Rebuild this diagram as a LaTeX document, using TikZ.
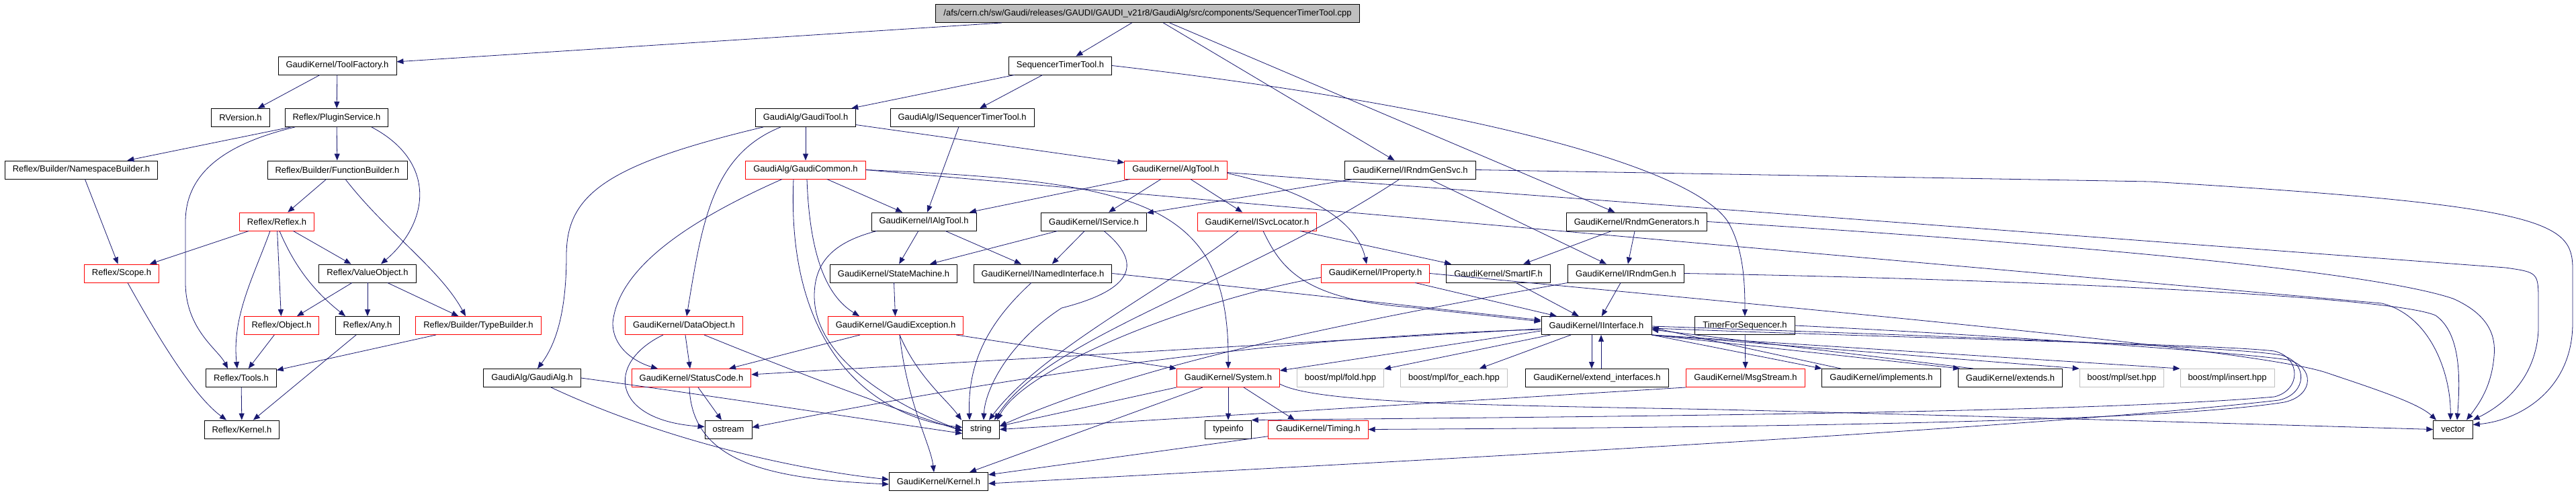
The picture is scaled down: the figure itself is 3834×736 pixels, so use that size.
\documentclass[tikz,border=0pt]{standalone}
\usepackage{fontspec}
\usepackage{xcolor}
\usepackage{tikz}
\usetikzlibrary{arrows.meta,positioning}
\newfontfamily\dotfont{Liberation Sans}
\definecolor{DoxBlue}{HTML}{191970}
\definecolor{DoxRed}{HTML}{FF0000}
\definecolor{DoxGrey}{HTML}{BFBFBF}
\tikzset{
  filebox/.style={draw=black,line width=0.9pt,fill=white,minimum height=27pt,inner xsep=11.5pt,inner ysep=2pt,font=\dotfont\fontsize{13pt}{15pt}\selectfont},
  redbox/.style={filebox,draw=DoxRed},
  greybox/.style={filebox,draw=DoxGrey},
  rootbox/.style={filebox,fill=DoxGrey},
  incarrow/.style={-{Triangle[length=10pt,width=8pt]},line width=0.8pt,draw=DoxBlue}
}
\begin{document}
\begin{tikzpicture}[x=1pt,y=-1pt]
\useasboundingbox (0,0) rectangle (3834,736);
\node[rootbox] (cpp) at (1708,20) {/afs/cern.ch/sw/Gaudi/releases/GAUDI/GAUDI\_v21r8/GaudiAlg/src/components/SequencerTimerTool.cpp};
\node[filebox] (tf) at (502,97.5) {GaudiKernel/ToolFactory.h};
\node[filebox] (stth) at (1578,97.5) {SequencerTimerTool.h};
\node[filebox] (rver) at (358,175) {RVersion.h};
\node[filebox] (plug) at (501,175) {Reflex/PluginService.h};
\node[filebox] (gtool) at (1199,175) {GaudiAlg/GaudiTool.h};
\node[filebox] (istt) at (1432,175) {GaudiAlg/ISequencerTimerTool.h};
\node[filebox] (nsb) at (121,252.5) {Reflex/Builder/NamespaceBuilder.h};
\node[filebox] (fnb) at (502,252.5) {Reflex/Builder/FunctionBuilder.h};
\node[redbox] (gcom) at (1199,252.5) {GaudiAlg/GaudiCommon.h};
\node[redbox] (algt) at (1750,252.5) {GaudiKernel/AlgTool.h};
\node[filebox] (rgsvc) at (2099,252.5) {GaudiKernel/IRndmGenSvc.h};
\node[redbox] (rflx) at (412,329.5) {Reflex/Reflex.h};
\node[filebox] (ialg) at (1375,329.5) {GaudiKernel/IAlgTool.h};
\node[filebox] (isvc) at (1628,329.5) {GaudiKernel/IService.h};
\node[redbox] (iloc) at (1871,329.5) {GaudiKernel/ISvcLocator.h};
\node[filebox] (rgens) at (2436,329.5) {GaudiKernel/RndmGenerators.h};
\node[redbox] (scope) at (181,406.5) {Reflex/Scope.h};
\node[filebox] (vobj) at (547,406.5) {Reflex/ValueObject.h};
\node[filebox] (smach) at (1330,406.5) {GaudiKernel/StateMachine.h};
\node[filebox] (inamed) at (1552,406.5) {GaudiKernel/INamedInterface.h};
\node[redbox] (iprop) at (2047,406.5) {GaudiKernel/IProperty.h};
\node[filebox] (smartif) at (2230,406.5) {GaudiKernel/SmartIF.h};
\node[filebox] (irgen) at (2420,406.5) {GaudiKernel/IRndmGen.h};
\node[redbox] (obj) at (419,484) {Reflex/Object.h};
\node[filebox] (any) at (547,484) {Reflex/Any.h};
\node[redbox] (tbld) at (712,484) {Reflex/Builder/TypeBuilder.h};
\node[redbox] (dobj) at (1018,484) {GaudiKernel/DataObject.h};
\node[redbox] (gexc) at (1333,484) {GaudiKernel/GaudiException.h};
\node[filebox] (iintf) at (2376,484) {GaudiKernel/IInterface.h};
\node[filebox] (tfs) at (2597,484) {TimerForSequencer.h};
\node[filebox] (tools) at (359,562) {Reflex/Tools.h};
\node[filebox] (galg) at (792,562) {GaudiAlg/GaudiAlg.h};
\node[redbox] (stcode) at (1029,562) {GaudiKernel/StatusCode.h};
\node[redbox] (sys) at (1828,562) {GaudiKernel/System.h};
\node[greybox] (fold) at (1995,562) {boost/mpl/fold.hpp};
\node[greybox] (foreach) at (2164,562) {boost/mpl/for\_each.hpp};
\node[filebox] (extif) at (2377,562) {GaudiKernel/extend\_interfaces.h};
\node[redbox] (msg) at (2598,562) {GaudiKernel/MsgStream.h};
\node[filebox] (impl) at (2800,562) {GaudiKernel/implements.h};
\node[filebox] (ext) at (2992,562) {GaudiKernel/extends.h};
\node[greybox] (mset) at (3158,562) {boost/mpl/set.hpp};
\node[greybox] (mins) at (3315,562) {boost/mpl/insert.hpp};
\node[filebox] (rkern) at (360,638.5) {Reflex/Kernel.h};
\node[filebox] (ostr) at (1084,638.5) {ostream};
\node[filebox] (str) at (1460,638.5) {string};
\node[filebox] (tinfo) at (1828,638.5) {typeinfo};
\node[redbox] (timing) at (1962,638.5) {GaudiKernel/Timing.h};
\node[filebox] (vec) at (3651,638.5) {vector};
\node[filebox] (gkern) at (1397,716) {GaudiKernel/Kernel.h};
\draw[incarrow] (cpp) -- (tf);
\draw[incarrow] (cpp) -- (stth);
\draw[incarrow] (cpp) -- (rgsvc);
\draw[incarrow] (cpp) -- (rgens);
\draw[incarrow] (tf) -- (rver);
\draw[incarrow] (tf) -- (plug);
\draw[incarrow] (plug) -- (nsb);
\draw[incarrow] (plug) -- (fnb);
\draw[incarrow] ([xshift=-62pt]plug.south) .. controls (330,215) and (276,260) .. (276,330) -- (276,420) .. controls (276,490) and (325,520) .. ([xshift=-20pt]tools.north);
\draw[incarrow] ([xshift=52pt]plug.south) .. controls (650,240) and (640,330) .. ([xshift=20pt]vobj.north);
\draw[incarrow] (nsb) -- (scope);
\draw[incarrow] (fnb) -- (rflx);
\draw[incarrow] ([xshift=12pt]fnb.south) .. controls (575,345) and (655,400) .. ([xshift=-19pt]tbld.north);
\draw[incarrow] (rflx) -- (scope);
\draw[incarrow] ([xshift=-10pt]rflx.south) .. controls (378,410) and (345,470) .. ([xshift=-6pt]tools.north);
\draw[incarrow] (rflx) -- (obj);
\draw[incarrow] ([xshift=4pt]rflx.south) .. controls (440,400) and (470,435) .. ([xshift=-33pt]any.north);
\draw[incarrow] (rflx) -- (vobj);
\draw[incarrow] ([xshift=9pt]scope.south) .. controls (240,510) and (290,590) .. ([xshift=-23pt]rkern.north);
\draw[incarrow] (vobj) -- (obj);
\draw[incarrow] (vobj) -- (any);
\draw[incarrow] (vobj) -- (tbld);
\draw[incarrow] (obj) -- (tools);
\draw[incarrow] (any) -- (rkern);
\draw[incarrow] (tbld) -- (tools);
\draw[incarrow] (tools) -- (rkern);
\draw[incarrow] (stth) -- (gtool);
\draw[incarrow] (stth) -- (istt);
\draw[incarrow] (stth.east) .. controls (2200,160) and (2520,250) .. (2572,330) .. controls (2595,370) and (2597,420) .. (tfs.north);
\draw[incarrow] ([xshift=-63pt]gtool.south) .. controls (900,245) and (843,290) .. (843,380) .. controls (843,470) and (825,515) .. ([xshift=8pt]galg.north);
\draw[incarrow] ([xshift=-37pt]gtool.south) .. controls (1060,230) and (1045,330) .. ([xshift=4pt]dobj.north);
\draw[incarrow] (gtool) -- (gcom);
\draw[incarrow] (gtool) -- (algt);
\draw[incarrow] (istt) -- (ialg);
\draw[incarrow] (gcom) -- (ialg);
\draw[incarrow] ([xshift=-35pt]gcom.south) .. controls (1020,330) and (920,400) .. (912,480) .. controls (912,520) and (950,540) .. ([xshift=-50pt]stcode.north);
\draw[incarrow] ([xshift=2pt]gcom.south) .. controls (1205,380) and (1230,440) .. ([xshift=-54pt]gexc.north);
\draw[incarrow] ([xshift=-18pt]gcom.south) .. controls (1170,520) and (1300,620) .. ([yshift=3pt]str.west);
\draw[incarrow] (gcom.east) .. controls (1700,270) and (1830,300) .. (sys.north);
\draw[incarrow] (gcom.east) -- (3545,451) .. controls (3620,470) and (3648,560) .. ([xshift=-4pt]vec.north);
\draw[incarrow] (algt) -- (ialg);
\draw[incarrow] (algt) -- (isvc);
\draw[incarrow] (algt) -- (iloc);
\draw[incarrow] ([yshift=-5pt]algt.east) .. controls (1950,285) and (2020,330) .. ([xshift=-13pt]iprop.north);
\draw[incarrow] ([yshift=-4pt]algt.east) -- (3729,398) .. controls (3778,405) .. (3778,450) -- (3778,490) .. controls (3775,560) and (3730,600) .. (vec.north east);
\draw[incarrow] (rgsvc) -- (isvc);
\draw[incarrow] (rgsvc) -- (irgen);
\draw[incarrow] (rgsvc.east) -- (3200,270) .. controls (3790,305) and (3829,330) .. (3829,400) -- (3829,480) .. controls (3829,580) and (3750,625) .. ([yshift=7pt]vec.east);
\draw[incarrow] ([xshift=-16pt]rgsvc.south) .. controls (1850,420) and (1560,500) .. ([xshift=20pt]str.north);
\draw[incarrow] (rgens) -- (smartif);
\draw[incarrow] (rgens) -- (irgen);
\draw[incarrow] (rgens.east) .. controls (3200,370) and (3550,410) .. (3651,444) .. controls (3705,468) and (3715,500) .. (3712,530) .. controls (3708,575) and (3690,600) .. ([xshift=20pt]vec.north);
\draw[incarrow] (ialg) -- (smach);
\draw[incarrow] (ialg) -- (inamed);
\draw[incarrow] ([xshift=-70pt]ialg.south) .. controls (1240,360) and (1212,390) .. (1212,440) .. controls (1212,540) and (1350,610) .. ([yshift=-2pt]str.west);
\draw[incarrow] (isvc) -- (smach);
\draw[incarrow] (isvc) -- (inamed);
\draw[incarrow] ([xshift=15pt]isvc.south) .. controls (1700,390) and (1690,430) .. (1580,458) .. controls (1500,510) and (1466,580) .. ([xshift=4pt]str.north);
\draw[incarrow] ([xshift=-28pt]iloc.south) .. controls (1750,420) and (1550,520) .. ([xshift=12pt]str.north);
\draw[incarrow] ([xshift=9pt]iloc.south) .. controls (1905,395) and (1935,445) .. (2100,457) -- ([yshift=6pt]iintf.west);
\draw[incarrow] (iloc) -- ([xshift=-70pt]smartif.north);
\draw[incarrow] (iprop) -- (iintf);
\draw[incarrow] ([yshift=-6pt]iprop.west) .. controls (1800,440) and (1530,540) .. ([xshift=24pt]str.north);
\draw[incarrow] (iprop.east) .. controls (2800,470) and (3350,520) .. (3459,553) .. controls (3540,580) and (3600,600) .. ([xshift=-25pt]vec.north);
\draw[incarrow] (smartif) -- (iintf);
\draw[incarrow] (irgen) -- (iintf);
\draw[incarrow] (irgen.east) .. controls (3000,415) and (3560,440) .. (3625,469) .. controls (3662,495) and (3662,560) .. ([xshift=6pt]vec.north);
\draw[incarrow] (irgen.south west) .. controls (2000,480) and (1700,540) .. ([yshift=5pt]str.east);
\draw[incarrow] (smach) -- (gexc);
\draw[incarrow] (inamed.east) -- ([yshift=8pt]iintf.west);
\draw[incarrow] ([xshift=-17pt]inamed.south) .. controls (1470,480) and (1440,540) .. ([xshift=-17pt]str.north);
\draw[incarrow] ([xshift=6pt]gexc.south) .. controls (1365,560) and (1410,595) .. ([xshift=-29pt]str.north);
\draw[incarrow] ([xshift=6pt]gexc.south) .. controls (1350,600) and (1385,660) .. ([xshift=-7pt]gkern.north);
\draw[incarrow] ([xshift=90pt]gexc.south) -- (sys.north west);
\draw[incarrow] ([xshift=-53pt]gexc.south) -- ([xshift=56pt]stcode.north);
\draw[incarrow] (dobj) -- (stcode);
\draw[incarrow] ([xshift=-31pt]dobj.south) .. controls (900,540) and (910,625) .. ([yshift=4pt]ostr.west);
\draw[incarrow] ([xshift=30pt]dobj.south) .. controls (1200,560) and (1350,615) .. ([yshift=-2pt]str.west);
\draw[incarrow] (galg.east) .. controls (1000,580) and (1300,625) .. ([yshift=-6pt]str.west);
\draw[incarrow] ([xshift=28pt]galg.south) .. controls (1000,660) and (1200,700) .. ([yshift=3pt]gkern.west);
\draw[incarrow] (stcode) -- (ostr);
\draw[incarrow] ([xshift=-3pt]stcode.south) .. controls (1030,690) and (1150,712) .. ([yshift=-4pt]gkern.west);
\draw[incarrow] (iintf) -- (stcode);
\draw[incarrow] ([yshift=-6pt]iintf.west) .. controls (1900,500) and (1500,560) .. ([yshift=3pt]ostr.east);
\draw[incarrow] ([yshift=-8pt]iintf.west) -- ([yshift=11pt]sys.east);
\draw[incarrow] (iintf) -- (fold);
\draw[incarrow] (iintf) -- (foreach);
\draw[incarrow] ([xshift=-7pt]iintf.south) -- ([xshift=-8pt]extif.north);
\draw[incarrow] ([xshift=6pt]extif.north) -- ([xshift=7pt]iintf.south);
\draw[incarrow] (iintf.south east) -- (impl.north west);
\draw[incarrow] (iintf.south east) -- ([xshift=-75pt]ext.north);
\draw[incarrow] (iintf.south east) -- (mset.north west);
\draw[incarrow] (iintf.south east) -- (mins.north west);
\draw[incarrow] ([xshift=-60pt]impl.north) -- ([yshift=-3pt]iintf.east);
\draw[incarrow] ([xshift=-55pt]ext.north) -- ([yshift=-6pt]iintf.east);
\draw[incarrow] ([yshift=-4pt]iintf.east) .. controls (2900,505) and (3300,512) .. (3385,522) .. controls (3425,532) and (3425,580) .. (3385,590) .. controls (3100,615) and (2300,620) .. (tinfo.north east);
\draw[incarrow] ([yshift=-1pt]iintf.east) .. controls (2900,500) and (3320,515) .. (3395,528) .. controls (3435,538) and (3435,585) .. (3392,595) .. controls (3000,640) and (2000,690) .. ([yshift=-3pt]gkern.east);
\draw[incarrow] (tfs) -- (msg);
\draw[incarrow] (tfs.east) .. controls (3000,500) and (3340,525) .. (3405,535) .. controls (3445,545) and (3445,588) .. (3400,598) .. controls (3200,630) and (2500,636) .. (timing.east);
\draw[incarrow] (sys) -- (tinfo);
\draw[incarrow] (sys.south west) -- ([yshift=5pt]str.east);
\draw[incarrow] ([xshift=-38pt]sys.south) -- ([xshift=46pt]gkern.north);
\draw[incarrow] ([xshift=23pt]sys.south) -- ([xshift=-35pt]timing.north);
\draw[incarrow] ([yshift=-9pt]sys.east) .. controls (1960,600) and (2200,602) .. (2560,609) .. controls (3000,620) and (3400,632) .. (vec.west);
\draw[incarrow] (msg.south west) -- (str.east);
\draw[incarrow] (timing) -- (gkern);
\end{tikzpicture}
\end{document}
